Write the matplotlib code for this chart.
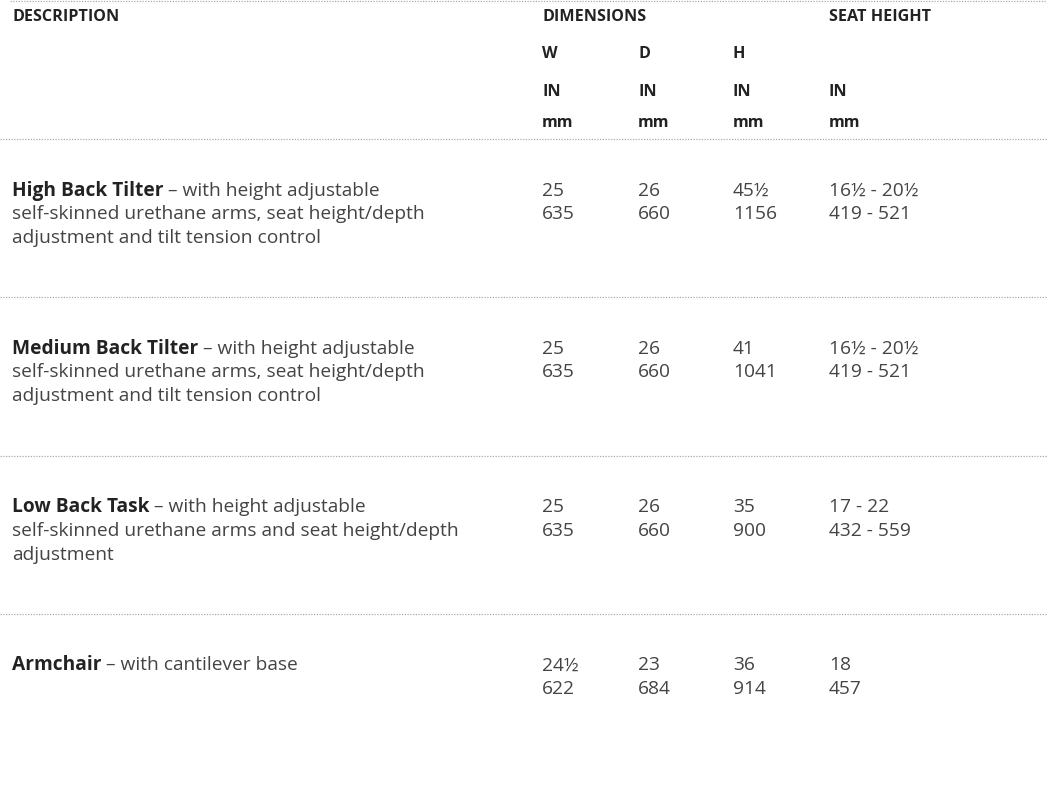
import matplotlib
matplotlib.use("Agg")
import matplotlib.pyplot as plt

titles = ["High Back Tilter", "Medium Back Tilter", "Low Back Task", "Armchair"]
desc_lines = [
    ["– with height adjustable", "self-skinned urethane arms, seat height/depth", "adjustment and tilt tension control"],
    ["– with height adjustable", "self-skinned urethane arms, seat height/depth", "adjustment and tilt tension control"],
    ["– with height adjustable", "self-skinned urethane arms and seat height/depth", "adjustment"],
    ["– with cantilever base"],
]
w_in = ["25", "25", "25", "24½"]
w_mm = ["635", "635", "635", "622"]
d_in = ["26", "26", "26", "23"]
d_mm = ["660", "660", "660", "684"]
h_in = ["45½", "41", "35", "36"]
h_mm = ["1156", "1041", "900", "914"]
seat_in = ["16½ - 20½", "16½ - 20½", "17 - 22", "18"]
seat_mm = ["419 - 521", "419 - 521", "432 - 559", "457"]

col_headers = ["W", "D", "H"]
unit_in = "IN"
unit_mm = "mm"

W, H = 1047, 788
fig = plt.figure(figsize=(W / 100, H / 100), dpi=100)
ax = fig.add_axes([0, 0, 1, 1])
ax.set_xlim(0, W)
ax.set_ylim(H, 0)
ax.axis("off")

FONT = "Open Sans"
hdr_kw = dict(family=FONT, fontweight="bold", fontsize=11.6, color="#222222", va="center", ha="left")
body_kw = dict(family=FONT, fontsize=13.8, color="#444444", va="baseline", ha="left")
line_kw = dict(color="#aaaaaa", lw=0.9, ls=(0, (1, 1.2)))

x_desc = 12
x_cols = [542, 638, 733, 829]

# header
ax.plot([10, W], [1, 1], **line_kw)
ax.text(x_desc, 17, "DESCRIPTION", **hdr_kw)
ax.text(x_cols[0], 17, "DIMENSIONS", **hdr_kw)
ax.text(x_cols[3], 17, "SEAT HEIGHT", **hdr_kw)
for x, lab in zip(x_cols[:3], col_headers):
    ax.text(x, 54, lab, **hdr_kw)
for x in x_cols:
    ax.text(x, 92, unit_in, **hdr_kw)
    ax.text(x, 123, unit_mm, **hdr_kw)

row_lines = [139, 297, 456, 614]
line_gap = 23.7
fig.canvas.draw()
renderer = fig.canvas.get_renderer()

for i, title in enumerate(titles):
    y0 = row_lines[i]
    ax.plot([0, W], [y0, y0], **line_kw)
    yt = y0 + 56.5
    t = ax.text(x_desc, yt, title, **{**body_kw, "fontweight": "bold", "color": "#222222"})
    bb = t.get_window_extent(renderer=renderer)
    x_end = ax.transData.inverted().transform((bb.x1, bb.y0))[0]
    ax.text(x_end + 4.5, yt, desc_lines[i][0], **body_kw)
    for k, ln in enumerate(desc_lines[i][1:]):
        ax.text(x_desc, yt + line_gap * (k + 1), ln, **body_kw)
    vals_top = [w_in[i], d_in[i], h_in[i], seat_in[i]]
    vals_bot = [w_mm[i], d_mm[i], h_mm[i], seat_mm[i]]
    for x, a, b in zip(x_cols, vals_top, vals_bot):
        ax.text(x, yt, a, **body_kw)
        ax.text(x, yt + line_gap, b, **body_kw)

fig.savefig("out.png", dpi=100)
